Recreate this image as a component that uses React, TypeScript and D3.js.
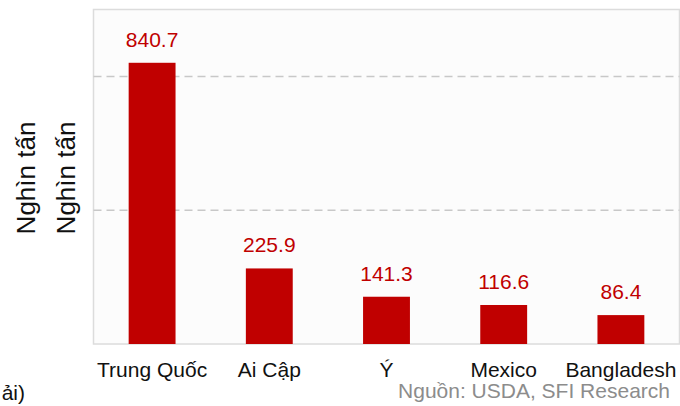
import * as d3 from 'd3';

const categories = ['Trung Quốc', 'Ai Cập', 'Ý', 'Mexico', 'Bangladesh'];
const values = [840.7, 225.9, 141.3, 116.6, 86.4];
const gridTicks = [400, 800];
const yTitle = 'Nghìn tấn';
const source = 'Nguồn: USDA, SFI Research';
const cutNote = 'ải)';

const W = 680;
const H = 406;
const panel = { left: 93.5, right: 679.5, top: 9.5, bottom: 344 };
const font = '"Liberation Sans", Arial, sans-serif';
const red = '#c00000';

const App = () => {
  const x = d3.scaleBand()
    .domain(categories)
    .range([panel.left, panel.right])
    .paddingInner(0.6)
    .paddingOuter(0.3);

  const y = d3.scaleLinear()
    .domain([0, 1000])
    .range([panel.bottom, panel.top]);

  return (
    <svg width={W} height={H} style={{ position: 'absolute', left: 0, top: 0 }} fontFamily={font}>
      <rect x={panel.left} y={panel.top} width={panel.right - panel.left} height={panel.bottom - panel.top}
        fill="#fcfcfc" stroke="#dcdcdc" strokeWidth={1.5} />

      {gridTicks.map(t => (
        <line key={t} x1={panel.left} x2={panel.right} y1={y(t)} y2={y(t)}
          stroke="#c8c8c8" strokeWidth={1.5} strokeDasharray="8,5" />
      ))}

      {categories.map((c, i) => (
        <g key={c}>
          <rect x={x(c)} y={y(values[i])} width={x.bandwidth()} height={y(0) - y(values[i])} fill={red} />
          <text x={x(c)! + x.bandwidth() / 2} y={y(values[i]) - 16} textAnchor="middle"
            fontSize={21} fill={red}>{values[i].toFixed(1)}</text>
          <text x={x(c)! + x.bandwidth() / 2} y={377} textAnchor="middle" fontSize={21} fill="#111">{c}</text>
        </g>
      ))}

      <text transform="translate(35,178) rotate(-90)" textAnchor="middle" fontSize={26} fill="#111">{yTitle}</text>
      <text transform="translate(75,178) rotate(-90)" textAnchor="middle" fontSize={26} fill="#111">{yTitle}</text>

      <text x={670} y={398} textAnchor="end" fontSize={21} fill="#8c8c8c">{source}</text>
      <text x={25} y={400} textAnchor="end" fontSize={21} fill="#111">{cutNote}</text>
    </svg>
  );
};

export default App;
